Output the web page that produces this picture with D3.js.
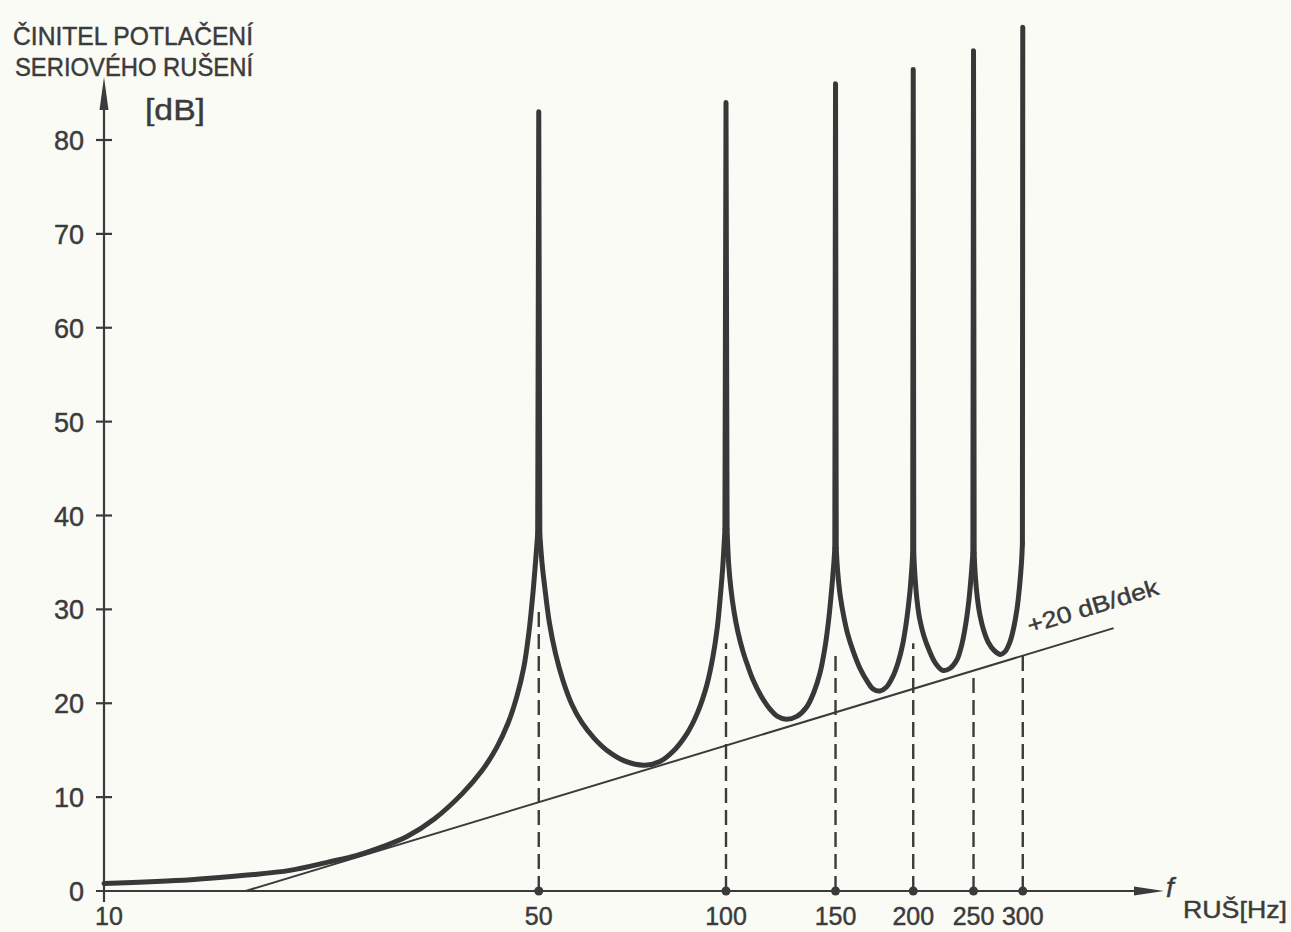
<!DOCTYPE html>
<html lang="cs">
<head>
<meta charset="UTF-8">
<title>Činitel potlačení sériového rušení</title>
<script src="https://d3js.org/d3.v7.min.js"></script>
<style>
    html, body { margin: 0; padding: 0; background: #fbfbf6; }
    svg { display: block; }
    text {
        font-family: "Liberation Sans", "DejaVu Sans", sans-serif;
        fill: #3b3b3b;
        stroke: #3b3b3b;
        stroke-width: 0.45px;
    }
</style>
</head>
<body>
<svg id="chart"></svg>
<script>
    // frequency ticks on the x axis [Hz]
    const freqTicks = [10, 50, 100, 150, 200, 250, 300];
    // dB ticks on the y axis
    const dbTicks = [0, 10, 20, 30, 40, 50, 60, 70, 80];
    // notch frequencies (dashed markers) and where each dashed line stops [dB]
    const peakFreqs = [50, 100, 150, 200, 250, 300];
    const dashTops = [30.2, 26.4, 25.7, 26.4, 23.5, 25.1];
    // +20 dB/dek asymptote, two ends [Hz, dB]
    const slopeLine = [[16.9, 0], [420, 28]];
    // measured curve [Hz, dB]; points above 60 dB are the spike tops
    const curve = [
        [10, 0.8], [13.8, 1.2], [17, 1.7], [19.9, 2.2], [23, 3.1], [25.5, 3.8], [28, 4.7],
        [30.7, 5.8], [34, 7.7], [37.7, 10.4], [40.5, 12.8], [42.8, 15.3], [44.7, 18],
        [46.1, 20.7], [47.3, 23.8], [48.2, 27.5], [48.9, 31.5], [49.4, 35], [49.8, 38],
        [50, 83],
        [50.2, 38], [50.6, 35], [51.2, 32], [52, 28.6], [53.2, 25.3], [54.7, 22.4],
        [56.5, 19.9], [58.7, 17.9], [61.5, 16.2], [64.3, 15.0], [69, 13.8], [74, 13.4],
        [78.3, 13.8], [82, 14.8], [86.6, 16.8], [90, 19], [93.2, 22], [95.3, 25],
        [96.8, 28], [97.9, 31.3], [98.8, 34.5], [99.6, 38.5],
        [100, 84],
        [100.4, 38.5], [101, 34.8], [101.8, 32.3], [103, 29.8], [104.5, 27.6],
        [106.5, 25.5], [108.5, 23.9], [110.5, 22.5], [113.8, 20.8], [117.6, 19.4],
        [121, 18.6], [125, 18.3], [130, 18.6], [134.8, 19.6], [138.5, 21.2],
        [141.6, 23.2], [144.3, 26], [146.3, 29], [147.8, 32], [149.1, 35], [149.6, 36.5],
        [150, 86],
        [150.4, 36.5], [151.2, 34], [152.6, 31.5], [154.6, 29.3], [157, 27.3],
        [160, 25.6], [164, 23.8], [168.8, 22.3], [172.5, 21.5], [176.8, 21.3],
        [181, 21.7], [185, 22.7], [189, 24.3], [192.5, 26.4], [195.3, 29],
        [197.5, 31.8], [199, 34.5], [199.6, 36],
        [200, 87.5],
        [200.4, 36], [201.3, 33.5], [202.8, 31], [204.8, 29], [208, 27.2], [212, 25.7],
        [217, 24.3], [223, 23.5], [229, 23.7], [235, 24.6], [239.5, 26.3], [243, 28.5],
        [245.8, 31], [247.8, 33.5], [249.4, 36],
        [250, 89.5],
        [250.6, 36], [251.7, 33.5], [253.6, 31.2], [256, 29.4], [259.5, 27.8],
        [264, 26.5], [270, 25.6], [276, 25.2], [281, 25.5], [286, 26.5], [290, 28],
        [293.6, 30], [296.5, 32.5], [298.6, 35], [299.6, 37],
        [300, 92]
    ];

    const width = 1291, height = 932;
    const ink = "#3b3b3b";

    const svg = d3.select("#chart")
        .attr("width", width)
        .attr("height", height);

    const x = d3.scaleLog().domain([10, 100]).range([104, 726]);
    const y = d3.scaleLinear().domain([0, 80]).range([891, 140]);
    const x0 = x(10), y0 = y(0);

    // axes
    const axes = svg.append("g").attr("stroke", ink).attr("stroke-width", 2.2);
    axes.append("line")
        .attr("x1", x0).attr("x2", x0)
        .attr("y1", y0 + 11).attr("y2", 100);
    axes.append("line")
        .attr("x1", x0 - 8).attr("x2", 1140)
        .attr("y1", y0).attr("y2", y0);

    // arrow heads
    svg.append("path")
        .attr("d", `M${x0},77 L${x0 - 4.5},110 L${x0 + 4.5},110 Z`)
        .attr("fill", ink);
    svg.append("path")
        .attr("d", `M1164,${y0} L1134,${y0 - 4.5} L1134,${y0 + 4.5} Z`)
        .attr("fill", ink);

    // y ticks crossing the axis
    axes.selectAll(".ytick")
        .data(dbTicks.filter(d => d > 0))
        .join("line")
        .attr("class", "ytick")
        .attr("x1", x0 - 8).attr("x2", x0 + 8)
        .attr("y1", d => y(d)).attr("y2", d => y(d));

    svg.selectAll(".ylab")
        .data(dbTicks)
        .join("text")
        .attr("class", "ylab")
        .attr("x", 84)
        .attr("y", d => y(d) + 10)
        .attr("text-anchor", "end")
        .attr("font-size", 27)
        .text(d => d);

    svg.selectAll(".xlab")
        .data(freqTicks)
        .join("text")
        .attr("class", "xlab")
        .attr("x", d => x(d) + (d === 10 ? 5 : 0))
        .attr("y", 925)
        .attr("text-anchor", "middle")
        .attr("font-size", 25)
        .text(d => d);

    // dashed markers at the notch frequencies
    svg.selectAll(".dash")
        .data(peakFreqs)
        .join("line")
        .attr("class", "dash")
        .attr("x1", d => x(d)).attr("x2", d => x(d))
        .attr("y1", y0)
        .attr("y2", (d, i) => y(dashTops[i]))
        .attr("stroke", ink)
        .attr("stroke-width", 2.4)
        .attr("stroke-dasharray", "15 7");

    svg.selectAll(".dot")
        .data(peakFreqs)
        .join("circle")
        .attr("class", "dot")
        .attr("cx", d => x(d))
        .attr("cy", y0)
        .attr("r", 4.5)
        .attr("fill", ink);

    // asymptote
    svg.append("line")
        .attr("x1", x(slopeLine[0][0])).attr("y1", y(slopeLine[0][1]))
        .attr("x2", x(slopeLine[1][0])).attr("y2", y(slopeLine[1][1]))
        .attr("stroke", ink)
        .attr("stroke-width", 2);

    const ang = Math.atan2(y(slopeLine[1][1]) - y(slopeLine[0][1]),
        x(slopeLine[1][0]) - x(slopeLine[0][0])) * 180 / Math.PI;
    const lx = 1030;
    const ly = y(slopeLine[0][1]) + (lx - x(slopeLine[0][0])) * Math.tan(ang * Math.PI / 180) - 20;
    svg.append("text")
        .attr("transform", `translate(${lx},${ly}) rotate(${ang})`)
        .attr("font-size", 23)
        .attr("textLength", 136)
        .attr("lengthAdjust", "spacingAndGlyphs")
        .text("+20 dB/dek");

    // split the curve into smooth bowls and straight spikes
    const bowls = [[]];
    const spikes = [];
    curve.forEach((p, i) => {
        if (p[1] > 60) {
            spikes.push([curve[i - 1], p, curve[i + 1]].filter(Boolean));
            bowls.push([]);
        } else {
            bowls[bowls.length - 1].push(p);
        }
    });

    const bowlLine = d3.line()
        .x(d => x(d[0]))
        .y(d => y(d[1]))
        .curve(d3.curveCatmullRom.alpha(0.5));
    const spikeLine = d3.line()
        .x(d => x(d[0]))
        .y(d => y(d[1]));

    const curveG = svg.append("g")
        .attr("fill", "none")
        .attr("stroke", "#383838")
        .attr("stroke-width", 5)
        .attr("stroke-linejoin", "round")
        .attr("stroke-linecap", "round");

    curveG.selectAll(".bowl")
        .data(bowls.filter(b => b.length > 1))
        .join("path")
        .attr("class", "bowl")
        .attr("d", bowlLine);

    curveG.selectAll(".spike")
        .data(spikes)
        .join("path")
        .attr("class", "spike")
        .attr("d", spikeLine);

    // axis titles
    svg.append("text")
        .attr("x", 13).attr("y", 45)
        .attr("font-size", 25)
        .attr("textLength", 240)
        .attr("lengthAdjust", "spacingAndGlyphs")
        .text("ČINITEL POTLAČENÍ");
    svg.append("text")
        .attr("x", 15).attr("y", 76)
        .attr("font-size", 25)
        .attr("textLength", 238)
        .attr("lengthAdjust", "spacingAndGlyphs")
        .text("SERIOVÉHO RUŠENÍ");
    svg.append("text")
        .attr("x", 145).attr("y", 120)
        .attr("font-size", 30)
        .attr("textLength", 60)
        .attr("lengthAdjust", "spacingAndGlyphs")
        .text("[dB]");

    svg.append("text")
        .attr("x", 1166).attr("y", 897)
        .attr("font-size", 28)
        .attr("font-style", "italic")
        .text("f");
    svg.append("text")
        .attr("x", 1183).attr("y", 918)
        .attr("font-size", 24)
        .attr("textLength", 104)
        .attr("lengthAdjust", "spacingAndGlyphs")
        .text("RUŠ[Hz]");
</script>
</body>
</html>
